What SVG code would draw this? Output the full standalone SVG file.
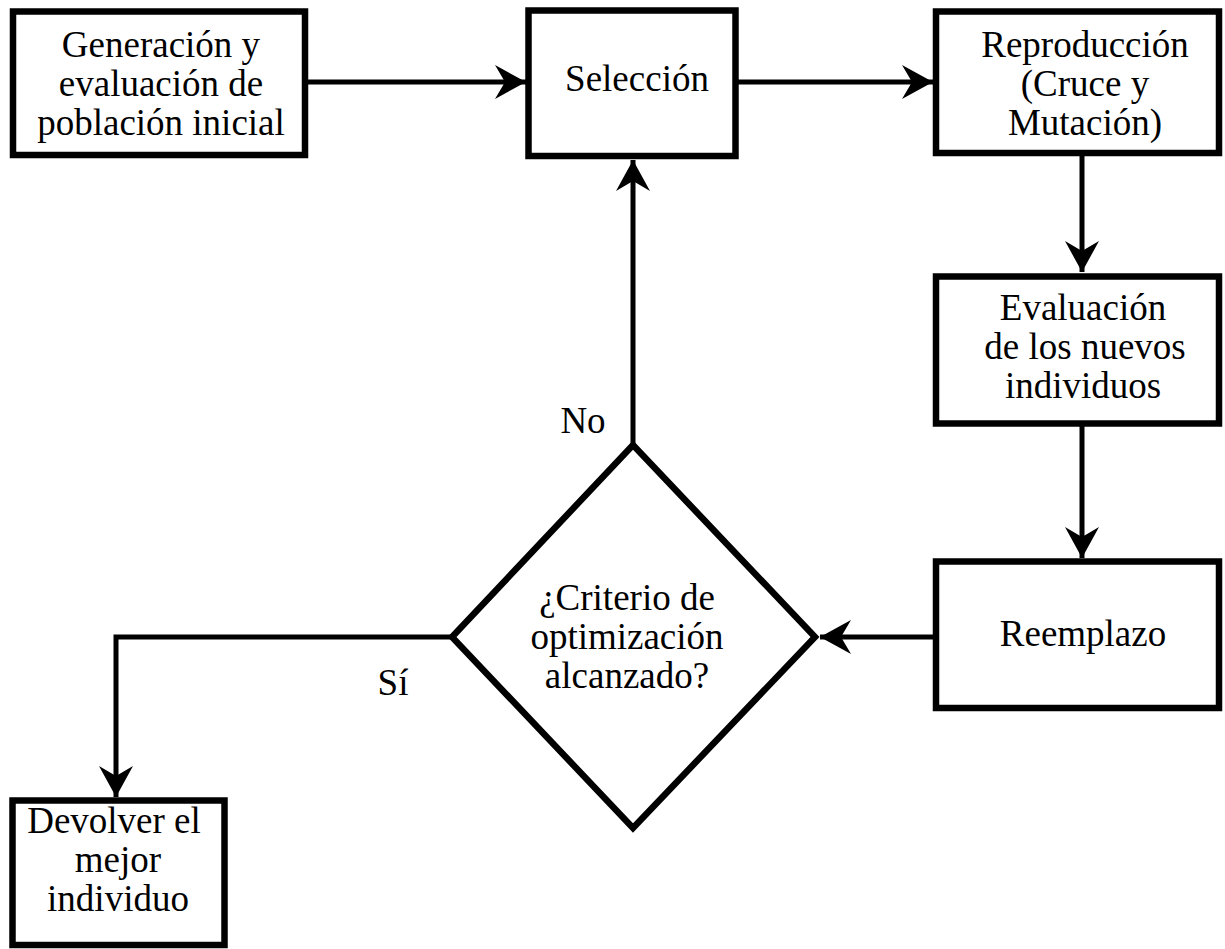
<svg xmlns="http://www.w3.org/2000/svg" width="1225" height="949" viewBox="0 0 1225 949">
<style>
.box{fill:#fff;stroke:#000;stroke-width:6.5}
.ln{fill:none;stroke:#000;stroke-width:5}
text{font-family:"Liberation Serif","Times New Roman",serif;font-size:37px;fill:#000;text-anchor:middle}
</style>
<defs>
<marker id="ah" viewBox="-32 -18 34 36" refX="0" refY="0" markerUnits="userSpaceOnUse" markerWidth="34" markerHeight="36" orient="auto">
<path d="M0,0 L-31,-17 L-21,0 L-31,17 Z" fill="#000"/>
</marker>
</defs>
<rect width="1225" height="949" fill="#fff"/>
<g id="connectors">
<line class="ln" x1="305" y1="82" x2="526" y2="82" marker-end="url(#ah)"/>
<line class="ln" x1="735" y1="82" x2="933" y2="82" marker-end="url(#ah)"/>
<line class="ln" x1="1082" y1="153" x2="1082" y2="272" marker-end="url(#ah)"/>
<line class="ln" x1="1082" y1="423" x2="1082" y2="558" marker-end="url(#ah)"/>
<line class="ln" x1="936" y1="637" x2="820" y2="637" marker-end="url(#ah)"/>
<line class="ln" x1="633" y1="445" x2="633" y2="160" marker-end="url(#ah)"/>
<polyline class="ln" points="452,637 116,637 116,797" marker-end="url(#ah)"/>
<text x="583" y="433">No</text>
<text x="393" y="695">Sí</text>
</g>
<g id="n_generacion">
<rect class="box" x="13" y="11.5" width="292" height="143.5"/>
<text x="161" y="57">Generación y</text>
<text x="161" y="96">evaluación de</text>
<text x="161" y="135">población inicial</text>
</g>
<g id="n_seleccion">
<rect class="box" x="528.5" y="10.5" width="207" height="145.5"/>
<text x="637" y="91">Selección</text>
</g>
<g id="n_reproduccion">
<rect class="box" x="936" y="11.5" width="283" height="141.5"/>
<text x="1085" y="57">Reproducción</text>
<text x="1085" y="96">(Cruce y</text>
<text x="1085" y="135">Mutación)</text>
</g>
<g id="n_evaluacion">
<rect class="box" x="936" y="276.5" width="283" height="147"/>
<text x="1083" y="320">Evaluación</text>
<text x="1085" y="359">de los nuevos</text>
<text x="1083" y="398">individuos</text>
</g>
<g id="n_reemplazo">
<rect class="box" x="936" y="561.5" width="283" height="146.5"/>
<text x="1083" y="646">Reemplazo</text>
</g>
<g id="n_decision">
<polygon class="box" points="633,445 815,637 633,828 452,637"/>
<text x="627" y="610">¿Criterio de</text>
<text x="627" y="649">optimización</text>
<text x="627" y="688">alcanzado?</text>
</g>
<g id="n_devolver">
<rect class="box" x="12.5" y="800.5" width="212" height="144.5"/>
<text x="114" y="833">Devolver el</text>
<text x="118" y="872">mejor</text>
<text x="118" y="911">individuo</text>
</g>
</svg>
